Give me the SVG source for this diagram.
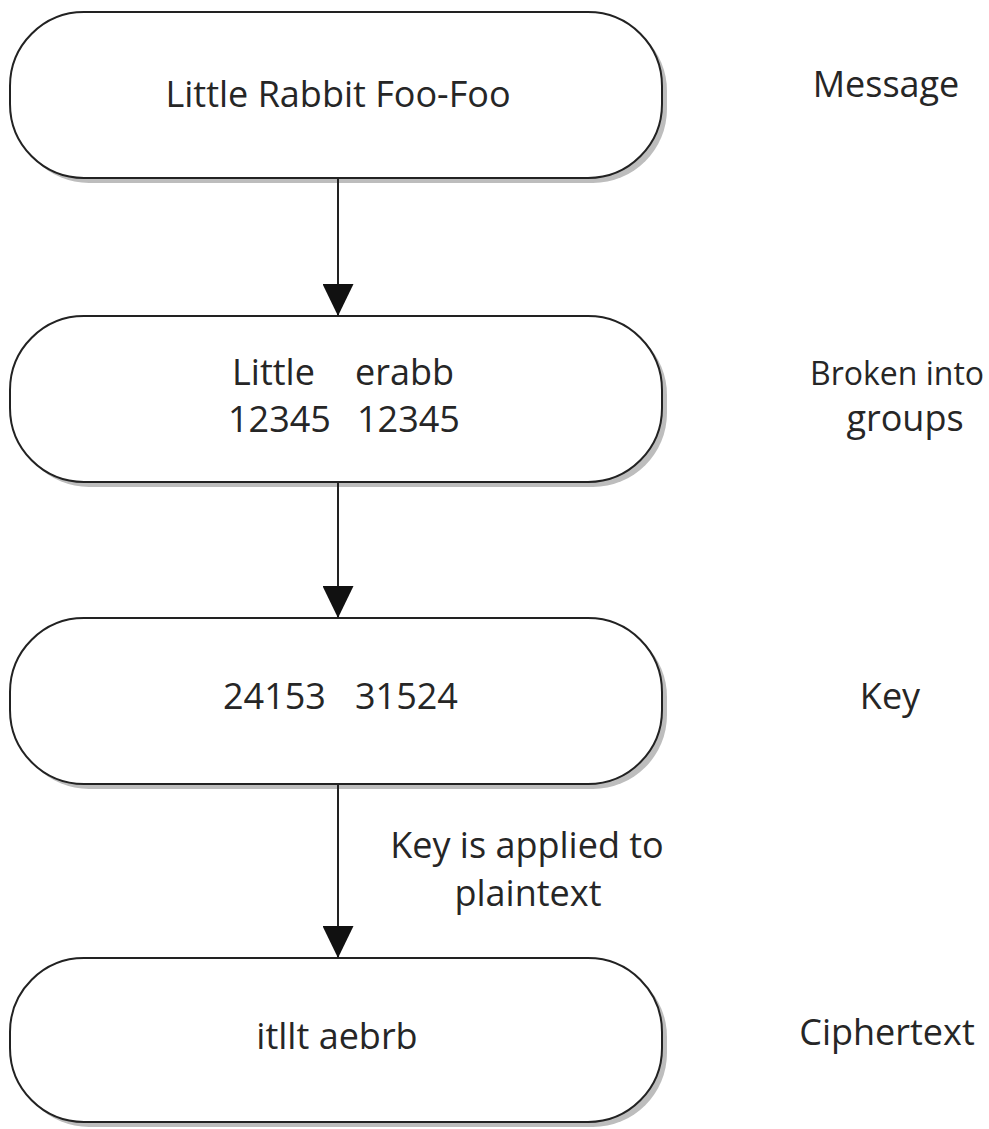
<svg xmlns="http://www.w3.org/2000/svg" width="989" height="1129" viewBox="0 0 989 1129">
<style>
.box{fill:#fff;stroke:#222;stroke-width:2}
.sh{fill:#bdbdbd}
.t{font-family:"Open Sans","Noto Sans",sans-serif;font-size:36px;fill:#262626;text-anchor:middle}
.s{text-anchor:start}
.c{stroke:#222;stroke-width:2;fill:none}
</style>
<defs>
<marker id="ah" viewBox="0 0 32 31" refX="32" refY="15.5" markerWidth="32" markerHeight="31" markerUnits="userSpaceOnUse" orient="auto">
<path d="M0,0 L32,15.5 L0,31 Z" fill="#111"/>
</marker>
</defs>
<rect width="989" height="1129" fill="#fff"/>
<g id="n1">
<rect class="sh" x="15" y="17" width="652" height="166" rx="74"/>
<rect class="box" x="10" y="12" width="652" height="166" rx="74"/>
<text class="t" x="338" y="107">Little Rabbit Foo-Foo</text>
</g>
<g id="n2">
<rect class="sh" x="15" y="321" width="652" height="166" rx="74"/>
<rect class="box" x="10" y="316" width="652" height="166" rx="74"/>
<text class="t s" x="232" y="385">Little</text>
<text class="t s" x="355" y="385">erabb</text>
<text class="t s" x="228" y="432">12345</text>
<text class="t s" x="357" y="432">12345</text>
</g>
<g id="n3">
<rect class="sh" x="15" y="623" width="652" height="166" rx="74"/>
<rect class="box" x="10" y="618" width="652" height="166" rx="74"/>
<text class="t s" x="223" y="709">24153</text>
<text class="t s" x="355" y="709">31524</text>
</g>
<g id="n4">
<rect class="sh" x="15" y="963" width="652" height="164" rx="74"/>
<rect class="box" x="10" y="958" width="652" height="164" rx="74"/>
<text class="t" x="337" y="1049">itllt aebrb</text>
</g>
<g id="labels">
<text class="t" x="886" y="97">Message</text>
<text class="t" x="897" y="385" style="font-size:32px">Broken into</text>
<text class="t" x="905" y="431">groups</text>
<text class="t" x="890" y="709">Key</text>
<text class="t" x="887" y="1045">Ciphertext</text>
<text class="t" x="527" y="858">Key is applied to</text>
<text class="t" x="528" y="906">plaintext</text>
</g>
<g id="connectors">
<line class="c" x1="338" y1="178" x2="338" y2="316" marker-end="url(#ah)"/>
<line class="c" x1="338" y1="482" x2="338" y2="618" marker-end="url(#ah)"/>
<line class="c" x1="338" y1="784" x2="338" y2="958" marker-end="url(#ah)"/>
</g>
</svg>
